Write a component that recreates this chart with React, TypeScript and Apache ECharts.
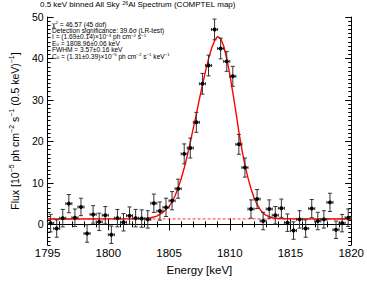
import React, { useEffect, useRef } from "react";
import * as echarts from "echarts";

// Bin centres (0.5 keV bins)
const energies = [
  1795.25, 1795.75, 1796.25, 1796.75, 1797.25, 1797.75, 1798.25, 1798.75, 1799.25, 1799.75,
  1800.25, 1800.75, 1801.25, 1801.75, 1802.25, 1802.75, 1803.25, 1803.75, 1804.25, 1804.75,
  1805.25, 1805.75, 1806.25, 1806.75, 1807.25, 1807.75, 1808.25, 1808.75, 1809.25, 1809.75,
  1810.25, 1810.75, 1811.25, 1811.75, 1812.25, 1812.75, 1813.25, 1813.75, 1814.25, 1814.75,
  1815.25, 1815.75, 1816.25, 1816.75, 1817.25, 1817.75, 1818.25, 1818.75, 1819.25, 1819.75,
];
const flux = [
  0.3, -1.0, 1.5, 5.0, 1.6, 4.2, -2.2, 2.4, 0.6, 2.2,
  -2.5, 1.5, 0.5, 2.1, 1.5, 1.4, 1.2, 5.1, 3.2, 4.1,
  5.7, 8.6, 17.0, 18.4, 24.6, 33.9, 38.3, 47.0, 42.4, 39.3,
  35.7, 19.3, 13.7, 3.7, 6.1, 0.8, 3.7, 2.2, 3.9, 0.4,
  -1.5, 1.2, -1.0, 3.8, 0.8, 1.2, 5.3, -1.3, 0.3, 1.6,
];
const fluxErr = [
  2.1, 2.1, 2.1, 2.2, 2.1, 2.1, 2.1, 2.1, 2.1, 2.1,
  2.1, 2.1, 2.1, 2.1, 2.1, 2.1, 2.1, 2.2, 2.2, 2.2,
  2.2, 2.3, 2.4, 2.4, 2.4, 2.5, 2.5, 2.5, 2.5, 2.4,
  2.4, 2.4, 2.3, 2.2, 2.3, 2.1, 2.2, 2.1, 2.2, 2.1,
  2.1, 2.1, 2.1, 2.2, 2.1, 2.1, 2.2, 2.1, 2.1, 2.1,
];

// Fitted line profile
const fitEnergy = [
  1795, 1802, 1803, 1803.5, 1804, 1804.5, 1805, 1805.25, 1805.5, 1805.75,
  1806, 1806.25, 1806.5, 1806.75, 1807, 1807.25, 1807.5, 1807.75, 1808, 1808.25,
  1808.5, 1808.75, 1809, 1809.25, 1809.5, 1809.75, 1810, 1810.25, 1810.5, 1810.75,
  1811, 1811.25, 1811.5, 1811.75, 1812, 1812.25, 1812.5, 1812.75, 1813, 1813.5,
  1814, 1815, 1820,
];
const fitFlux = [
  1.31, 1.33, 1.45, 1.6, 2.0, 2.9, 4.3, 5.4, 6.9, 8.8,
  11.0, 13.6, 16.5, 19.8, 23.2, 26.6, 30.2, 33.6, 36.9, 39.9,
  42.4, 44.3, 45.3, 44.8, 43.0, 40.0, 36.2, 31.8, 27.2, 22.3,
  18.0, 14.3, 11.2, 8.6, 6.4, 4.8, 3.6, 2.7, 2.15, 1.6,
  1.4, 1.32, 1.31,
];
const continuum = 1.31;

const yMajorTicks = [0, 10, 20, 30, 40, 50];

const FONT = "Liberation Sans, Helvetica, Arial, sans-serif";

const infoLines = [
  "χ{sup|2} = 46.57 (45 dof)",
  "Detection significance: 39.6σ (LR-test)",
  "I = (1.69±0.14)×10{sup|−3} ph cm{sup|−2} s{sup|−1}",
  "E{sub|0} = 1808.96±0.06 keV",
  "FWHM = 3.57±0.16 keV",
  "C{sub|0} = (1.31±0.39)×10{sup|−5} ph cm{sup|−2} s{sup|−1} keV{sup|−1}",
];

export default function App() {
  const ref = useRef<HTMLDivElement>(null);

  useEffect(() => {
    document.body.style.margin = "0";
    if (!ref.current) return;
    const chart = echarts.init(ref.current, undefined, { renderer: "svg" });

    const points = energies.map((e, i) => [e, flux[i], fluxErr[i]]);
    const fit = fitEnergy.map((e, i) => [e, fitFlux[i]]);

    const axisLineStyle = { color: "#000", width: 1 };

    const infoFs = 6.6;
    const graphicTexts: any[] = infoLines.map((t, i) => ({
      type: "text",
      left: 52,
      top: 20.5 + i * 6.4,
      silent: true,
      style: {
        text: t,
        font: `${infoFs}px ${FONT}`,
        fill: "#000",
        rich: {
          sup: { fontSize: 4.4, fontFamily: FONT, verticalAlign: "top", lineHeight: 4.5, fill: "#000" },
          sub: { fontSize: 4.4, fontFamily: FONT, verticalAlign: "bottom", lineHeight: 4.5, fill: "#000" },
        },
      },
    }));

    graphicTexts.push({
      type: "text",
      left: 40,
      top: 0.5,
      silent: true,
      style: {
        text: "0.5 keV binned All Sky {sup|26}Al Spectrum (COMPTEL map)",
        font: `8px ${FONT}`,
        fill: "#000",
        rich: {
          sup: { fontSize: 5.3, fontFamily: FONT, verticalAlign: "top", lineHeight: 5.5, fill: "#000" },
        },
      },
    });

    const option: any = {
      animation: false,
      backgroundColor: "#fff",
      grid: { left: 41, right: 14, top: 17, bottom: 32, containLabel: false },
      xAxis: [
        {
          type: "value",
          position: "bottom",
          min: 1795,
          max: 1820,
          interval: 5,
          axisLine: { show: true, lineStyle: axisLineStyle },
          axisTick: { show: true, inside: true, length: 6, lineStyle: axisLineStyle },
          minorTick: { show: true, splitNumber: 5, length: 3, lineStyle: axisLineStyle },
          splitLine: { show: false },
          axisLabel: {
            fontSize: 11.5,
            color: "#000",
            fontFamily: FONT,
            margin: 2,
            formatter: (v: number) => String(v),
          },
          name: "Energy [keV]",
          nameLocation: "middle",
          nameGap: 12,
          nameTextStyle: { fontSize: 11.5, color: "#000", fontFamily: FONT },
        },
        {
          type: "value",
          position: "top",
          min: 1795,
          max: 1820,
          interval: 5,
          axisLine: { show: true, lineStyle: axisLineStyle },
          axisTick: { show: true, inside: true, length: 6, lineStyle: axisLineStyle },
          minorTick: { show: true, splitNumber: 5, length: 3, lineStyle: axisLineStyle },
          splitLine: { show: false },
          axisLabel: { show: false },
        },
      ],
      yAxis: [
        {
          type: "value",
          position: "left",
          min: -5,
          max: 50,
          axisLine: { show: true, lineStyle: axisLineStyle },
          axisTick: { show: true, inside: true, length: 6, lineStyle: axisLineStyle, customValues: yMajorTicks },
          axisLabel: { fontSize: 10.5, color: "#000", fontFamily: FONT, margin: 4, customValues: yMajorTicks },
          splitLine: { show: false },
          name: "Flux [10{sup|−5} ph cm{sup|−2} s{sup|−1} (0.5 keV){sup|−1}]",
          nameLocation: "middle",
          nameGap: 24,
          nameTextStyle: {
            fontSize: 10.5,
            color: "#000",
            fontFamily: FONT,
            lineHeight: 13,
            rich: {
              sup: { fontSize: 7, fontFamily: FONT, verticalAlign: "top", lineHeight: 8, color: "#000" },
            },
          },
        },
        {
          type: "value",
          position: "left",
          min: -5,
          max: 50,
          interval: 1,
          axisLine: { show: false },
          axisTick: { show: true, inside: true, length: 3, lineStyle: axisLineStyle },
          axisLabel: { show: false },
          splitLine: { show: false },
        },
        {
          type: "value",
          position: "right",
          min: -5,
          max: 50,
          axisLine: { show: true, lineStyle: axisLineStyle },
          axisTick: { show: true, inside: true, length: 6, lineStyle: axisLineStyle, customValues: yMajorTicks },
          axisLabel: { show: false },
          splitLine: { show: false },
        },
        {
          type: "value",
          position: "right",
          min: -5,
          max: 50,
          interval: 1,
          axisLine: { show: false },
          axisTick: { show: true, inside: true, length: 3, lineStyle: axisLineStyle },
          axisLabel: { show: false },
          splitLine: { show: false },
        },
      ],
      graphic: graphicTexts,
      series: [
        {
          type: "line",
          xAxisIndex: 0,
          yAxisIndex: 0,
          data: [
            [1795, continuum],
            [1820, continuum],
          ],
          symbol: "none",
          lineStyle: { color: "#ff0000", width: 0.8, type: [3, 2] },
          silent: true,
          z: 2,
        },
        {
          type: "line",
          xAxisIndex: 0,
          yAxisIndex: 0,
          data: fit,
          symbol: "none",
          smooth: false,
          lineStyle: { color: "#ff0000", width: 1.4 },
          silent: true,
          z: 3,
        },
        {
          type: "custom",
          xAxisIndex: 0,
          yAxisIndex: 0,
          data: points,
          z: 4,
          silent: true,
          renderItem: (params: any, api: any) => {
            const x = api.value(0);
            const y = api.value(1);
            const e = api.value(2);
            const c = api.coord([x, y]);
            const top = api.coord([x, y + e]);
            const bot = api.coord([x, y - e]);
            const l = api.coord([x - 0.25, y]);
            const r = api.coord([x + 0.25, y]);
            const st = { stroke: "#333", lineWidth: 1, fill: null };
            const cap = 2;
            const hcap = 1.5;
            return {
              type: "group",
              children: [
                { type: "line", shape: { x1: c[0], y1: top[1], x2: c[0], y2: bot[1] }, style: st },
                { type: "line", shape: { x1: c[0] - cap, y1: top[1], x2: c[0] + cap, y2: top[1] }, style: st },
                { type: "line", shape: { x1: c[0] - cap, y1: bot[1], x2: c[0] + cap, y2: bot[1] }, style: st },
                { type: "line", shape: { x1: l[0], y1: c[1], x2: r[0], y2: c[1] }, style: st },
                { type: "line", shape: { x1: l[0], y1: c[1] - hcap, x2: l[0], y2: c[1] + hcap }, style: st },
                { type: "line", shape: { x1: r[0], y1: c[1] - hcap, x2: r[0], y2: c[1] + hcap }, style: st },
                { type: "circle", shape: { cx: c[0], cy: c[1], r: 2 }, style: { fill: "#000", stroke: null } },
              ],
            };
          },
        },
      ],
    };

    chart.setOption(option);
    return () => {
      chart.dispose();
    };
  }, []);

  return <div ref={ref} style={{ width: 367, height: 281 }} />;
}
